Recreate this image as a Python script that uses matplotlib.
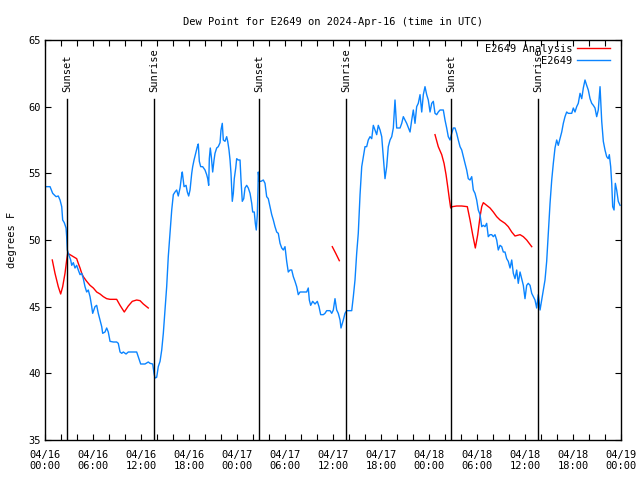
import numpy as np
import pandas as pd
import matplotlib
matplotlib.use("Agg")
import matplotlib.pyplot as plt
import matplotlib.dates as mdates

# hours after 2024-04-16 00:00 UTC, dew point in F
obs_hours = [
    0.21, 0.63, 0.96, 1.38, 1.66, 1.88, 2.09, 2.21, 2.41, 2.63, 2.71, 2.79, 2.91,
    3.21, 3.34, 3.54, 3.75, 3.96, 4.16, 4.38, 4.59, 4.79, 5.0, 5.21, 5.41, 5.63,
    5.84, 5.96, 6.25, 6.46, 6.66, 6.88, 7.09, 7.21, 7.5, 7.71, 7.91, 8.13, 8.54,
    8.96, 9.16, 9.38, 9.59, 9.79, 10.13, 10.41, 11.04, 11.46, 11.79, 11.96, 12.5,
    12.91, 13.13, 13.46, 13.63, 13.75, 13.96, 14.16, 14.38, 14.59, 14.79, 15.0,
    15.21, 15.41, 15.63, 15.84, 16.04, 16.25, 16.46, 16.66, 16.88, 17.09, 17.16,
    17.38, 17.63, 17.79, 17.96, 18.13, 18.34, 18.46, 18.63, 18.84, 19.04, 19.16,
    19.29, 19.46, 19.71, 20.0, 20.21, 20.34, 20.46, 20.54, 20.66, 20.79, 20.96,
    21.13, 21.25, 21.46, 21.66, 21.88, 22.0, 22.16, 22.29, 22.5, 22.71, 22.84,
    23.0, 23.13, 23.25, 23.41, 23.54, 23.66, 23.84, 23.96, 24.16, 24.38, 24.5,
    24.66, 24.84, 25.0, 25.21, 25.41, 25.63, 25.84, 25.96, 26.16, 26.29, 26.41,
    26.54, 26.63, 26.66, 26.79, 27.0, 27.29, 27.5, 27.71, 27.91, 28.13, 28.34,
    28.54, 28.75, 28.96, 29.16, 29.38, 29.59, 29.79, 30.0, 30.21, 30.41, 30.63,
    30.84, 31.04, 31.25, 31.46, 31.66, 31.88, 32.29, 32.71, 32.91, 33.04, 33.21,
    33.46, 33.75, 34.04, 34.25, 34.46, 34.79, 35.0, 35.21, 35.63, 35.84, 36.04,
    36.25, 36.46, 36.66, 36.88, 37.0, 37.29, 37.5, 37.71, 38.13, 38.34, 38.54,
    38.75, 38.96, 39.16, 39.38, 39.59, 39.79, 40.0, 40.21, 40.41, 40.63, 40.84,
    41.04, 41.25, 41.46, 41.66, 41.88, 42.09, 42.29, 42.5, 42.71, 42.91, 43.13,
    43.34, 43.54, 43.75, 43.96, 44.38, 44.59, 44.79, 45.0, 45.21, 45.63, 45.84,
    46.04, 46.25, 46.46, 46.66, 46.88, 47.09, 47.29, 47.5, 47.71, 47.91, 48.13,
    48.34, 48.54, 48.75, 48.96, 49.16, 49.38, 49.79, 50.0, 50.21, 50.41, 50.63,
    50.84, 51.04, 51.25, 51.46, 51.66, 51.88, 52.09, 52.29, 52.5, 52.71, 52.91,
    53.13, 53.34, 53.54, 53.75, 53.96, 54.16, 54.38, 54.59, 54.79, 55.0, 55.21,
    55.41, 55.63, 55.84, 56.04, 56.25, 56.46, 56.66, 56.88, 57.09, 57.29, 57.5,
    57.71, 57.91, 58.13, 58.34, 58.54, 58.75, 58.96, 59.16, 59.38, 59.59, 59.79,
    60.0, 60.21, 60.41, 60.63, 60.84, 61.04, 61.25, 61.46, 61.66, 61.88, 62.09,
    62.29, 62.5, 62.71, 62.91, 63.13, 63.34, 63.54, 63.75, 63.96, 64.16, 64.38,
    64.59, 64.79, 65.0, 65.21, 65.41, 65.84, 66.04, 66.25, 66.46, 66.66, 66.88,
    67.09, 67.29, 67.5, 67.71, 67.91, 68.13, 68.34, 68.54, 68.75, 68.96, 69.16,
    69.38, 69.5, 69.59, 69.79, 70.0, 70.21, 70.41, 70.54, 70.71, 70.84, 70.96,
    71.13, 71.29, 71.46, 71.66, 71.88,
]
obs_dewpt = [
    54.0, 54.0, 53.5, 53.25, 53.3, 53.0, 52.5, 51.5, 51.3, 50.9, 50.25, 49.25, 49.0,
    48.5, 48.1, 48.3, 47.9, 48.1, 47.75, 47.4, 47.5, 47.1, 46.5, 46.1, 46.25, 45.75,
    45.0, 44.5, 45.0, 45.1, 44.5, 44.0, 43.5, 43.0, 43.1, 43.4, 43.1, 42.4, 42.35,
    42.35, 42.25, 41.6, 41.5, 41.6, 41.45, 41.6, 41.6, 41.6, 41.0, 40.7, 40.7,
    40.85, 40.75, 40.7, 40.0, 39.65, 39.7, 40.5, 40.9, 41.75, 43.0, 44.75,
    46.5, 48.75, 50.5, 52.25, 53.4, 53.6, 53.75, 53.3, 53.9, 54.9, 55.1,
    54.0, 54.1, 53.6, 53.3, 53.75, 55.0, 55.5, 56.0, 56.5, 57.0, 57.2,
    55.9, 55.5, 55.5, 55.25, 54.9, 54.6, 54.1, 56.1, 56.9, 56.25, 55.1,
    56.0, 56.5, 56.9, 57.0, 57.3, 58.25, 58.75, 57.5, 57.4, 57.75, 57.4,
    56.75, 56.0, 55.0, 52.9, 53.5, 54.6, 55.4, 56.1, 56.0, 56.0, 54.5,
    52.9, 53.1, 53.9, 54.1, 53.9, 53.5, 52.75, 52.1, 52.1, 51.25, 50.75,
    51.9, 54.0, 55.1, 54.4, 54.4, 54.5, 54.25, 53.25, 53.1, 52.5, 51.9,
    51.5, 51.0, 50.6, 50.5, 49.75, 49.4, 49.25, 49.5, 48.4, 47.6, 47.75,
    47.75, 47.25, 46.9, 46.5, 45.9, 46.1, 46.1, 46.1, 46.4, 45.5, 45.1,
    45.4, 45.2, 45.4, 45.0, 44.4, 44.4, 44.5, 44.7, 44.7, 44.5, 44.75,
    45.6, 44.75, 44.5, 44.0, 43.4, 44.0, 44.5, 44.7, 44.7, 44.7, 45.75,
    47.0, 49.0, 50.5, 53.4, 55.5, 56.25, 57.0, 57.0, 57.5, 57.75, 57.6,
    58.6, 58.25, 57.9, 58.6, 58.25, 57.75, 56.25, 54.6, 55.5, 57.0, 57.5,
    57.75, 58.4, 60.5, 58.4, 58.4, 58.75, 59.25, 59.0, 58.75, 58.1, 59.0,
    59.75, 58.75, 60.0, 60.25, 60.9, 59.6, 60.9, 61.5, 60.9, 60.5, 59.6,
    60.25, 60.4, 59.5, 59.4, 59.6, 59.75, 59.75, 59.0, 58.4, 57.75, 57.5,
    58.0, 58.4, 58.4, 58.0, 57.5, 57.0, 56.75, 56.25, 55.75, 55.25, 54.6,
    54.5, 54.75, 53.75, 53.5, 53.0, 52.25, 51.9, 51.0, 51.1, 51.0, 51.25,
    50.25, 50.4, 50.4, 50.25, 50.4, 50.0, 49.25, 49.6, 49.5, 49.1, 49.1,
    48.6, 48.4, 47.9, 48.5, 47.5, 47.1, 47.75, 46.75, 47.6, 47.1, 46.6,
    45.6, 46.6, 46.75, 46.6, 46.0, 45.75, 45.5, 44.9, 45.9, 44.75, 45.5,
    46.25, 47.0, 48.4, 50.5, 52.75, 54.5, 55.75, 56.9, 57.5, 57.1, 57.6,
    58.1, 58.75, 59.25, 59.6, 59.5, 59.5, 59.9, 59.6, 60.0, 60.25, 61.0,
    60.6, 61.4, 62.0, 61.6, 61.25, 60.6, 60.25, 60.1, 59.9, 59.25, 59.75,
    61.5, 60.0, 58.9, 57.4, 56.75, 56.25, 56.1, 56.4, 55.5, 54.25, 52.5,
    52.25, 54.25, 53.75, 52.9, 52.6,
]

# analysis series, nan marks a gap
ana_hours = [
    0.91, 1.25, 1.66, 1.96, 2.21, 2.5, 2.71, 2.84, 3.13, 3.54, 3.96, 4.16, 4.38,
    4.59, 4.79, 5.21, 5.63, 6.04, 6.46, 6.88, 7.29, 7.71, 8.13, 8.96, 9.38, 9.91,
    10.41, 10.91, 11.46, 11.88, 12.29, 12.91,
    24.0,
    35.91, 36.34, 36.79,
    42.0,
    48.75, 49.16, 49.59, 49.88, 50.13, 50.34, 50.54, 50.71, 50.91, 51.46, 52.09,
    52.79, 53.13, 53.46, 53.79, 54.09, 54.38, 54.59, 54.79, 55.21, 55.63, 56.04,
    56.46, 56.88, 57.5, 57.91, 58.34, 58.75, 59.38, 59.79, 60.21, 60.84,
]
ana_dewpt = [
    48.5, 47.5, 46.5, 45.95, 46.5, 47.5, 48.5, 49.0, 48.9, 48.75, 48.6, 48.25, 47.9,
    47.5, 47.25, 46.9, 46.6, 46.4, 46.1, 45.95, 45.75, 45.6, 45.55, 45.55, 45.1, 44.6,
    45.05, 45.4, 45.5, 45.45, 45.2, 44.9,
    np.nan,
    49.5, 49.0, 48.45,
    np.nan,
    57.9, 57.0, 56.4, 55.75, 54.9, 54.0, 53.1, 52.4, 52.5, 52.55, 52.55,
    52.5, 51.5, 50.4, 49.4, 50.4, 51.75, 52.5, 52.8, 52.6, 52.4, 52.1,
    51.75, 51.5, 51.25, 51.0, 50.6, 50.3, 50.4, 50.25, 50.0, 49.5,
]

sun_hours = [2.79, 13.66, 26.79, 37.63, 50.79, 61.66]
sun_labels = ["Sunset", "Sunrise", "Sunset", "Sunrise", "Sunset", "Sunrise"]

start = pd.Timestamp("2024-04-16 00:00")
end = pd.Timestamp("2024-04-19 00:00")


def to_time(hours):
    return start + pd.to_timedelta(np.array(hours, dtype=float), unit="h")


plt.rcParams["font.family"] = "DejaVu Sans Mono"
plt.rcParams["font.size"] = 7.5

fig = plt.figure(figsize=(6.4, 4.8), dpi=100)
ax = fig.add_axes([45 / 640, 40 / 480, 576 / 640, 400 / 480])

ax.plot(to_time(ana_hours), ana_dewpt, color="#ff0000", lw=1, label="E2649 Analysis")
ax.plot(to_time(obs_hours), obs_dewpt, color="#0a84ff", lw=1, label="E2649")

for h, lab in zip(sun_hours, sun_labels):
    t = to_time([h])[0]
    ax.plot([t, t], [35, 60.6], color="black", lw=1)
    ax.text(t, 61.1, lab, rotation=90, ha="center", va="bottom")

ax.set_xlim(start, end)
ax.set_ylim(35, 65)
ax.set_yticks(range(35, 66, 5))
ax.xaxis.set_major_locator(mdates.HourLocator(byhour=range(0, 24, 6)))
ax.xaxis.set_minor_locator(mdates.HourLocator(byhour=range(0, 24, 2)))
ax.xaxis.set_major_formatter(mdates.DateFormatter("%m/%d\n%H:%M"))
ax.tick_params(which="both", direction="in", top=True, right=True,
               length=4, width=0.8)
ax.tick_params(axis="x", pad=7)
ax.tick_params(axis="y", pad=3)

for s in ax.spines.values():
    s.set_linewidth(1)

ax.set_title("Dew Point for E2649 on 2024-Apr-16 (time in UTC)",
             fontsize=7.5, pad=11)
ax.set_ylabel("degrees F", labelpad=8)

ax.legend(loc="upper right", bbox_to_anchor=(0.981, 0.99), frameon=False,
          markerfirst=False, handlelength=3.2, handletextpad=0.4,
          borderaxespad=0, borderpad=0, labelspacing=0.15)

fig.savefig("out.png", dpi=100)
